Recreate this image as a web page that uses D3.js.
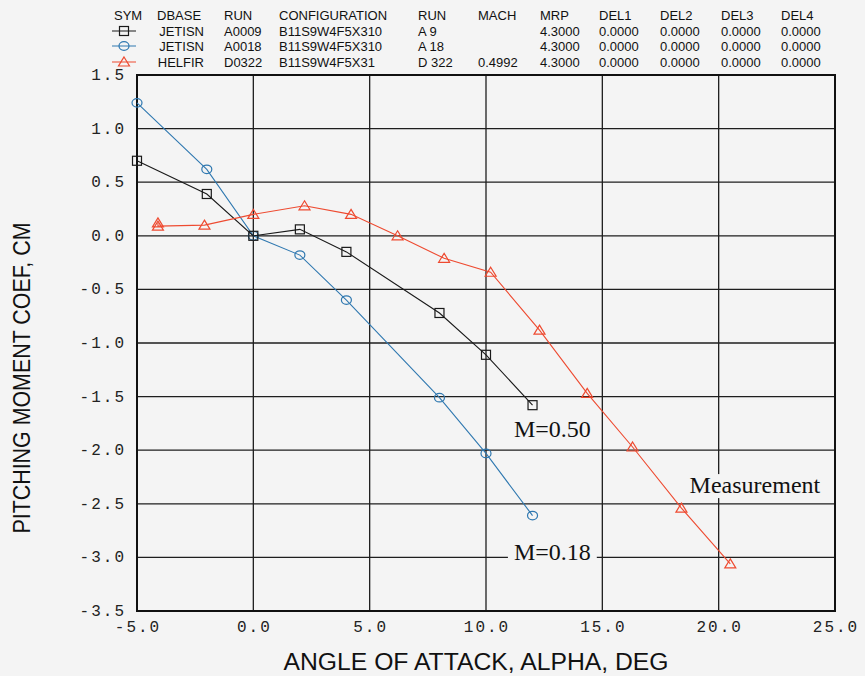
<!DOCTYPE html>
<html>
<head>
<meta charset="utf-8">
<script src="https://cdn.jsdelivr.net/npm/d3@7"></script>
<style>
  html, body { margin: 0; padding: 0; background: #f4f4f4; }
  svg { display: block; }
</style>
</head>
<body>
<div id="chart"></div>
<script>
// pitching moment vs angle of attack, three runs
const m050Alpha = [-5, -2, 0, 2, 4, 8, 10, 12];
const m050Cm    = [0.70, 0.39, 0.00, 0.06, -0.15, -0.72, -1.11, -1.58];

const m018Alpha = [-5, -2, 0, 2, 4, 8, 10, 12];
const m018Cm    = [1.24, 0.62, 0.00, -0.18, -0.60, -1.51, -2.03, -2.61];

const measAlpha = [-4.1, -4.1, -2.1, 0, 2.2, 4.2, 6.2, 8.2, 10.2, 12.3, 14.35, 16.3, 18.4, 20.5];
const measCm    = [0.12, 0.09, 0.10, 0.20, 0.28, 0.20, 0.00, -0.21, -0.34, -0.88, -1.47, -1.97, -2.54, -3.06];

const xTicks = [-5, 0, 5, 10, 15, 20, 25];
const yTicks = [1.5, 1.0, 0.5, 0.0, -0.5, -1.0, -1.5, -2.0, -2.5, -3.0, -3.5];

const headerCols = ["SYM", "DBASE", "RUN", "CONFIGURATION", "RUN", "MACH", "MRP", "DEL1", "DEL2", "DEL3", "DEL4"];
const headerRows = [
  ["JETISN", "A0009", "B11S9W4F5X310", "A 9",   "",       "4.3000", "0.0000", "0.0000", "0.0000", "0.0000"],
  ["JETISN", "A0018", "B11S9W4F5X310", "A 18",  "",       "4.3000", "0.0000", "0.0000", "0.0000", "0.0000"],
  ["HELFIR", "D0322", "B11S9W4F5X31",  "D 322", "0.4992", "4.3000", "0.0000", "0.0000", "0.0000", "0.0000"]
];

const width = 865, height = 676;
const svg = d3.select("#chart").append("svg")
  .attr("width", width)
  .attr("height", height);

svg.append("rect").attr("width", width).attr("height", height).attr("fill", "#f4f4f4");

const x = d3.scaleLinear().domain([-5, 25]).range([137, 835]);
const y = d3.scaleLinear().domain([-3.5, 1.5]).range([611, 75]);

// grid
const grid = svg.append("g");
grid.selectAll("line.v").data(xTicks).enter().append("line")
  .attr("x1", d => x(d)).attr("x2", d => x(d))
  .attr("y1", y(1.5)).attr("y2", y(-3.5))
  .attr("stroke", "#1e1e1e").attr("stroke-width", 1.3);
grid.selectAll("line.h").data(yTicks).enter().append("line")
  .attr("x1", x(-5)).attr("x2", x(25))
  .attr("y1", d => y(d)).attr("y2", d => y(d))
  .attr("stroke", "#1e1e1e").attr("stroke-width", 1.3);
svg.append("rect")
  .attr("x", x(-5)).attr("y", y(1.5))
  .attr("width", x(25) - x(-5)).attr("height", y(-3.5) - y(1.5))
  .attr("fill", "none").attr("stroke", "#111").attr("stroke-width", 2);

// tick labels
const tickFont = "'Liberation Mono', 'Courier New', monospace";
svg.selectAll("text.yt").data(yTicks).enter().append("text")
  .attr("x", 126).attr("y", d => y(d) + 5)
  .attr("text-anchor", "end")
  .attr("font-family", tickFont).attr("font-size", 16)
  .attr("letter-spacing", 2).attr("fill", "#222")
  .text(d => d3.format(".1f")(d).replace("−", "-"));
svg.selectAll("text.xt").data(xTicks).enter().append("text")
  .attr("x", d => x(d) + 1).attr("y", 632)
  .attr("text-anchor", "middle")
  .attr("font-family", tickFont).attr("font-size", 16)
  .attr("letter-spacing", 2).attr("fill", "#222")
  .text(d => d3.format(".1f")(d).replace("−", "-"));

// axis titles
svg.append("text")
  .attr("x", 476).attr("y", 670)
  .attr("text-anchor", "middle")
  .attr("font-family", "'Liberation Sans', Arial, sans-serif")
  .attr("font-size", 23).attr("fill", "#111")
  .attr("textLength", 385).attr("lengthAdjust", "spacingAndGlyphs")
  .text("ANGLE OF ATTACK, ALPHA, DEG");
svg.append("text")
  .attr("transform", "translate(30,378) rotate(-90)")
  .attr("text-anchor", "middle")
  .attr("font-family", "'Liberation Sans', Arial, sans-serif")
  .attr("font-size", 24).attr("fill", "#111")
  .attr("textLength", 311).attr("lengthAdjust", "spacingAndGlyphs")
  .text("PITCHING MOMENT COEF, CM");

// markers
function marker(sel, type, color) {
  if (type === "square") {
    sel.append("rect").attr("x", -4.5).attr("y", -4.5).attr("width", 9).attr("height", 9)
      .attr("fill", "none").attr("stroke", color).attr("stroke-width", 1.2);
  } else if (type === "circle") {
    sel.append("ellipse").attr("rx", 5).attr("ry", 4.3)
      .attr("fill", "none").attr("stroke", color).attr("stroke-width", 1.2);
  } else {
    sel.append("path").attr("d", "M0,-5L5.5,4L-5.5,4Z")
      .attr("fill", "none").attr("stroke", color).attr("stroke-width", 1.2);
  }
}

const series = [
  { alpha: m018Alpha, cm: m018Cm, color: "#2f78b0", type: "circle" },
  { alpha: m050Alpha, cm: m050Cm, color: "#1a1a1a", type: "square" },
  { alpha: measAlpha, cm: measCm, color: "#ee4a30", type: "triangle" }
];

const line = d3.line().x(d => x(d[0])).y(d => y(d[1]));

// text notes; some sit on a box that hides the grid behind them
const notes = [
  { text: "M=0.50", x: 11.2, y: -1.88, bg: false },
  { text: "M=0.18", x: 11.2, y: -3.02, bg: true },
  { text: "Measurement", x: 18.75, y: -2.40, bg: true }
];
notes.forEach(n => {
  const t = svg.append("text")
    .attr("x", x(n.x)).attr("y", y(n.y))
    .attr("font-family", "'Liberation Serif', 'Times New Roman', serif")
    .attr("font-size", 24).attr("fill", "#111")
    .text(n.text);
  if (n.bg) {
    const b = t.node().getBBox();
    svg.insert("rect", () => t.node())
      .attr("x", b.x - 6).attr("y", b.y + 2)
      .attr("width", b.width + 12).attr("height", b.height - 2)
      .attr("fill", "#f4f4f4");
  }
});

series.forEach(s => {
  const pts = s.alpha.map((a, i) => [a, s.cm[i]]);
  svg.append("path").datum(pts)
    .attr("d", line)
    .attr("fill", "none").attr("stroke", s.color).attr("stroke-width", 1.1);
  svg.append("g").selectAll("g").data(pts).enter().append("g")
    .attr("transform", d => `translate(${x(d[0])},${y(d[1])})`)
    .each(function() { marker(d3.select(this), s.type, s.color); });
});

// header table
const hdrFont = "'Liberation Sans', Arial, sans-serif";
const colX = [114, 157, 224, 279, 418, 478, 540, 599, 660, 721, 781];
const rowY = [20, 36, 51, 67];
const hdr = svg.append("g")
  .attr("font-family", hdrFont).attr("font-size", 13).attr("fill", "#111");
headerCols.forEach((c, i) => {
  hdr.append("text").attr("x", colX[i]).attr("y", rowY[0]).text(c);
});
headerRows.forEach((r, ri) => {
  r.forEach((v, ci) => {
    const t = hdr.append("text").attr("y", rowY[ri + 1]).text(v);
    if (ci === 0) t.attr("x", 204).attr("text-anchor", "end");
    else t.attr("x", colX[ci + 1]);
  });
  const s = series[[1, 0, 2][ri]];
  const g = hdr.append("g").attr("transform", `translate(124,${rowY[ri + 1] - 5})`);
  g.append("line").attr("x1", -12).attr("x2", 12)
    .attr("stroke", s.color).attr("stroke-width", 1);
  marker(g, s.type, s.color);
});
</script>
</body>
</html>
